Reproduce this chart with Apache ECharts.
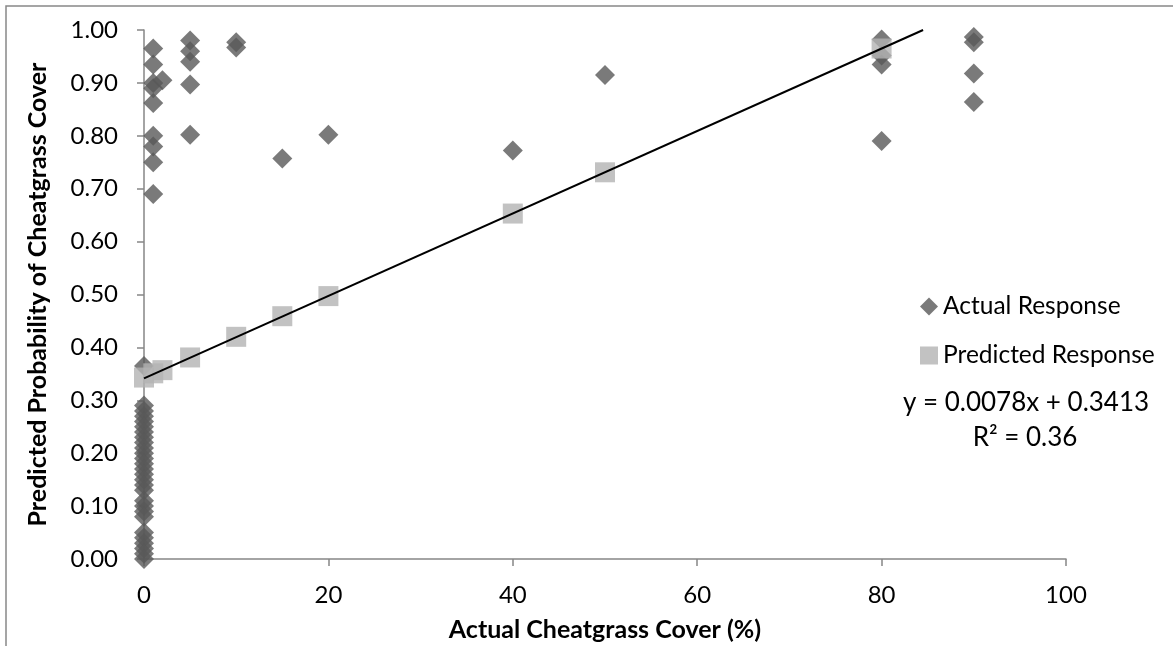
<!DOCTYPE html>
<html>
<head>
<meta charset="utf-8">
<script src="https://cdn.jsdelivr.net/npm/echarts@6/dist/echarts.min.js"></script>
<style>
  html, body { margin: 0; padding: 0; background: #fff; }
  #chart { width: 1173px; height: 646px; }
</style>
</head>
<body>
<div id="chart"></div>
<script>
// values
var actualX = [
  0, 0, 0, 0, 0, 0, 0, 0, 0, 0, 0, 0, 0, 0, 0, 0, 0, 0, 0, 0, 0, 0, 0, 0, 0, 0, 0, 0,
  1, 1, 1, 1, 1, 1, 1, 1, 1, 2,
  5, 5, 5, 5, 5,
  10, 10, 15, 20, 40, 50,
  80, 80, 80, 80,
  90, 90, 90, 90
];
var actualY = [
  0.365, 0.29, 0.28, 0.27, 0.26, 0.25, 0.24, 0.23, 0.22, 0.21, 0.20, 0.19, 0.18, 0.17,
  0.16, 0.15, 0.14, 0.13, 0.11, 0.10, 0.09, 0.08, 0.05, 0.04, 0.03, 0.02, 0.01, 0.0,
  0.965, 0.935, 0.90, 0.89, 0.862, 0.80, 0.78, 0.75, 0.69, 0.905,
  0.98, 0.96, 0.94, 0.897, 0.802,
  0.977, 0.967, 0.757, 0.802, 0.772, 0.915,
  0.982, 0.952, 0.935, 0.79,
  0.987, 0.977, 0.918, 0.864
];
var predictedX = [0, 1, 2, 5, 10, 15, 20, 40, 50, 80];
var predictedY = [0.343, 0.351, 0.357, 0.381, 0.42, 0.459, 0.497, 0.653, 0.731, 0.965];

// trend line end points (y = 0.0078x + 0.3413, cut at the top of the axis)
var trendX = [0, 84.5];
var trendY = [0.3413, 1.0];

var yTickLabels = ['0.00', '0.10', '0.20', '0.30', '0.40', '0.50', '0.60', '0.70', '0.80', '0.90', '1.00'];

var trendEquation = 'y = 0.0078x + 0.3413';
var trendR2 = 'R\u00b2 = 0.36';

function zip(xs, ys) {
  return xs.map(function (x, i) { return [x, ys[i]]; });
}

var fontName = 'Lato, "Open Sans", sans-serif';
var axisGrey = '#868686';

var chart = echarts.init(document.getElementById('chart'));

var option = {
  animation: false,
  backgroundColor: '#fff',
  textStyle: { fontFamily: fontName, color: '#000' },
  grid: { left: 144, right: 107, top: 30, bottom: 87, containLabel: false, outerBoundsMode: 'none' },
  legend: {
    data: [
      { name: 'Actual Response', icon: 'diamond' },
      { name: 'Predicted Response', icon: 'rect' }
    ],
    orient: 'vertical',
    left: 915,
    top: 289,
    itemWidth: 18,
    itemHeight: 18,
    itemGap: 24,
    selectedMode: false,
    textStyle: { fontFamily: fontName, fontSize: 24.5, color: '#000', lineHeight: 18 }
  },
  xAxis: {
    type: 'value',
    min: 0,
    max: 100,
    interval: 20,
    name: 'Actual Cheatgrass Cover (%)',
    nameLocation: 'middle',
    nameGap: 58,
    nameTextStyle: { fontFamily: fontName, fontSize: 25, fontWeight: 'bold', color: '#000' },
    axisLine: { show: true, onZero: false, lineStyle: { color: axisGrey, width: 1.5 } },
    axisTick: { show: true, inside: false, length: 7, lineStyle: { color: axisGrey, width: 1.5 } },
    axisLabel: { fontFamily: fontName, fontSize: 24, color: '#000', margin: 24 },
    splitLine: { show: false }
  },
  yAxis: {
    type: 'value',
    min: 0,
    max: 1,
    interval: 0.1,
    name: 'Predicted Probability of Cheatgrass Cover',
    nameLocation: 'middle',
    nameGap: 94,
    nameTextStyle: { fontFamily: fontName, fontSize: 25, fontWeight: 'bold', color: '#000' },
    axisLine: { show: true, onZero: false, lineStyle: { color: axisGrey, width: 1.5 } },
    axisTick: { show: true, inside: false, length: 7, lineStyle: { color: axisGrey, width: 1.5 } },
    axisLabel: {
      fontFamily: fontName, fontSize: 24, color: '#000', margin: 26,
      formatter: function (v) { return yTickLabels[Math.round(v * 10)]; }
    },
    splitLine: { show: false }
  },
  series: [
    {
      name: 'Actual Response',
      type: 'scatter',
      symbol: 'diamond',
      symbolSize: 20,
      itemStyle: { color: '#595959' },
      data: zip(actualX, actualY),
      z: 2
    },
    {
      name: 'Predicted Response',
      type: 'scatter',
      symbol: 'rect',
      symbolSize: 20,
      itemStyle: { color: '#b3b3b3' },
      data: zip(predictedX, predictedY),
      z: 3
    },
    {
      name: 'Trend',
      type: 'line',
      symbol: 'none',
      lineStyle: { color: '#000', width: 2 },
      data: zip(trendX, trendY),
      z: 4
    }
  ],
  graphic: [
    {
      type: 'rect',
      shape: { x: 6, y: 6, width: 1300, height: 800 },
      style: { fill: 'none', stroke: '#888', lineWidth: 1.5 },
      silent: true
    },
    {
      type: 'text',
      x: 1026,
      y: 403,
      style: {
        text: trendEquation, fontFamily: fontName, fontSize: 26, fill: '#000',
        align: 'center', verticalAlign: 'middle'
      }
    },
    {
      type: 'text',
      x: 1025,
      y: 438,
      style: {
        text: trendR2, fontFamily: fontName, fontSize: 26, fill: '#000',
        align: 'center', verticalAlign: 'middle'
      }
    }
  ]
};

chart.setOption(option);
</script>
</body>
</html>
